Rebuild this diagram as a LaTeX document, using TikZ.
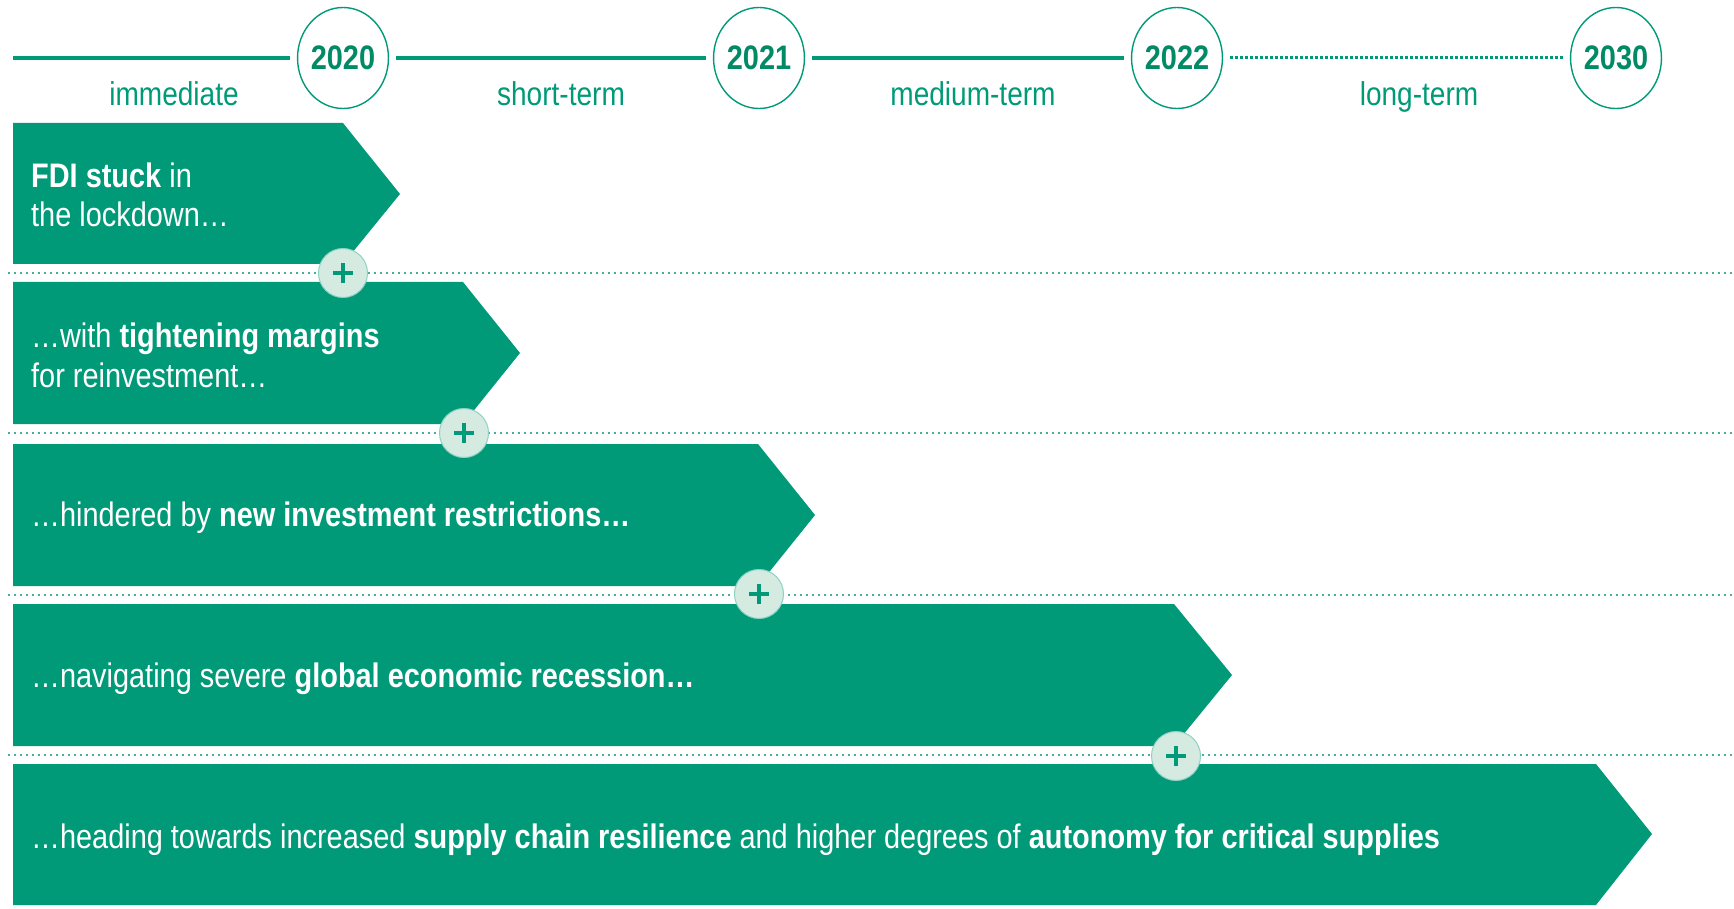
\documentclass[tikz,border=0pt]{standalone}
\usepackage{fontspec}
\setmainfont{Liberation Sans}[FakeStretch=0.85]
\usetikzlibrary{shapes.geometric}
\definecolor{grn}{HTML}{009A78}
\definecolor{ygrn}{HTML}{008A66}
\definecolor{pale}{HTML}{D5EBE2}
\definecolor{dotc}{HTML}{45B095}
\begin{document}
\begin{tikzpicture}[x=1pt,y=-1pt,
  year/.style={ellipse, draw=grn, line width=1.4pt, minimum width=90pt, minimum height=101pt, inner sep=0pt, text=ygrn, font=\fontsize{34}{34}\selectfont\bfseries},
  period/.style={anchor=base, text=grn, font=\fontsize{33}{33}\selectfont, inner sep=0pt},
  tl/.style={draw=grn, line width=4.2pt, shorten <=7pt, shorten >=7pt},
  tldot/.style={draw=grn, line width=3pt, dash pattern=on 2.5pt off 2.5pt, shorten <=7pt, shorten >=7pt},
  sep/.style={draw=dotc, line width=2.2pt, dash pattern=on 2pt off 4pt},
  band/.style={fill=grn},
  rowtext/.style={anchor=base west, text=white, font=\fontsize{34}{34}\selectfont, inner sep=0pt},
  plus/.style={circle, fill=pale, draw=grn!45, line width=1pt, minimum size=49pt, inner sep=0pt},
  plusbar/.style={draw=grn, line width=3.6pt}
]
\useasboundingbox (0,0) rectangle (1734,909);

% timeline
\coordinate (t0) at (13,58);
\node[year] (y20) at (343,58) {2020};
\node[year] (y21) at (759,58) {2021};
\node[year] (y22) at (1177,58) {2022};
\node[year] (y30) at (1616,58) {2030};
\draw[tl, shorten <=0pt] (t0) -- (y20);
\draw[tl] (y20) -- (y21);
\draw[tl] (y21) -- (y22);
\draw[tldot] (y22) -- (y30);
\node[period] (p1) at (174,106) {immediate};
\node[period] (p2) at (561,106) {short-term};
\node[period] (p3) at (973,106) {medium-term};
\node[period] (p4) at (1419,106) {long-term};

% bands
\fill[band] (13,123) -- (343,123) -- (400,194) -- (343,264) -- (13,264) -- cycle;
\fill[band] (13,282) -- (463,282) -- (520,353) -- (463,424) -- (13,424) -- cycle;
\fill[band] (13,444) -- (758,444) -- (815,515) -- (758,586) -- (13,586) -- cycle;
\fill[band] (13,604) -- (1174,604) -- (1232,675) -- (1174,746) -- (13,746) -- cycle;
\fill[band] (13,764) -- (1596,764) -- (1652,834) -- (1596,905) -- (13,905) -- cycle;

% separators
\coordinate (s1a) at (8,273);  \coordinate (s1b) at (1734,273);
\coordinate (s2a) at (8,433);  \coordinate (s2b) at (1734,433);
\coordinate (s3a) at (8,595);  \coordinate (s3b) at (1734,595);
\coordinate (s4a) at (8,755);  \coordinate (s4b) at (1734,755);
\draw[sep] (s1a) -- (s1b);
\draw[sep] (s2a) -- (s2b);
\draw[sep] (s3a) -- (s3b);
\draw[sep] (s4a) -- (s4b);

% texts
\node[rowtext] (r1a) at (31,188) {\textbf{FDI stuck} in};
\node[rowtext] (r1b) at (31,227) {the lockdown…};
\node[rowtext] (r2a) at (31,347) {…with \textbf{tightening margins}};
\node[rowtext] (r2b) at (31,387) {for reinvestment…};
\node[rowtext] (r3) at (31,526) {…hindered by \textbf{new investment restrictions…}};
\node[rowtext] (r4) at (31,687) {…navigating severe \textbf{global economic recession…}};
\node[rowtext] (r5) at (31,848) {…heading towards increased \textbf{supply chain resilience} and higher degrees of \textbf{autonomy for critical supplies}};

% plus circles
\foreach \n/\x/\y in {c1/343/273, c2/464/433, c3/759/594, c4/1176/756} {
  \node[plus] (\n) at (\x,\y) {};
  \draw[plusbar] ([xshift=-10pt]\n.center) -- ([xshift=10pt]\n.center);
  \draw[plusbar] ([yshift=-10pt]\n.center) -- ([yshift=10pt]\n.center);
}
\end{tikzpicture}
\end{document}
